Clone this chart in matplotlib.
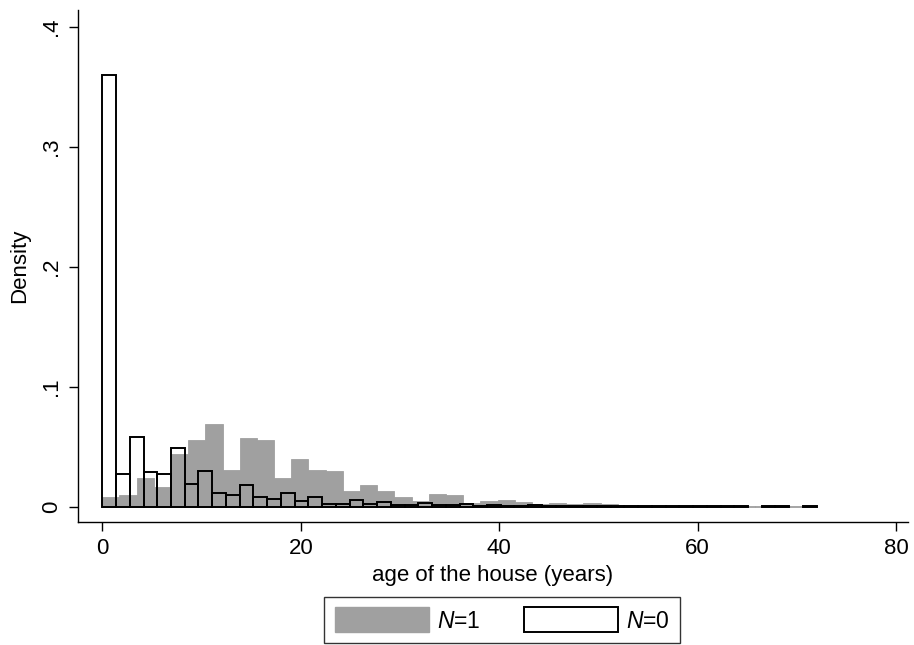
import numpy as np
import matplotlib
matplotlib.use('Agg')
import matplotlib.pyplot as plt
from matplotlib.patches import Patch

plt.rcParams['font.family'] = ['Liberation Sans', 'DejaVu Sans']
plt.rcParams['mathtext.fontset'] = 'custom'
plt.rcParams['mathtext.it'] = 'Liberation Sans:italic'
plt.rcParams['mathtext.rm'] = 'Liberation Sans'

# N=1 group: 41 bins over 0-71 years (density)
n1_range = (0, 71)
n1_density = [0.0083, 0.0097, 0.0236, 0.0167, 0.044, 0.056, 0.069, 0.031, 0.057, 0.056,
              0.024, 0.0395, 0.0305, 0.030, 0.0135, 0.0185, 0.0135, 0.0078, 0.005, 0.0103,
              0.0095, 0.003, 0.005, 0.0053, 0.0039, 0.002, 0.0028, 0.0025, 0.003, 0.0019,
              0.0013, 0.001, 0.0008, 0.0006, 0.0005, 0.0004, 0.0003, 0.0003, 0.0002, 0.0002,
              0.0002]

# N=0 group: 52 bins over 0-72 years (density)
n0_range = (0, 72)
n0_density = [0.360, 0.0272, 0.0583, 0.0292, 0.027, 0.0487, 0.0189, 0.030, 0.0111, 0.0097,
              0.0178, 0.0082, 0.0064, 0.0117, 0.0045, 0.0078, 0.0026, 0.0023, 0.0057, 0.0022,
              0.0042, 0.0015, 0.0014, 0.0033, 0.0012, 0.0011, 0.002, 0.001, 0.0018, 0.0009,
              0.0009, 0.0015, 0.0007, 0.0006, 0.0006, 0.0005, 0.0005, 0.0004, 0.0004, 0.0003,
              0.0003, 0.0003, 0.0002, 0.0002, 0.0002, 0.0002, 0.0002, 0.0, 0.0002, 0.0002,
              0.0, 0.0002]

xticks = [0, 20, 40, 60, 80]
yticks = [0, 0.1, 0.2, 0.3, 0.4]
ytick_labels = ['0', '.1', '.2', '.3', '.4']


def bin_edges(rng, dens):
    dens = np.array(dens)
    w = (rng[1] - rng[0]) / len(dens)
    left = rng[0] + np.arange(len(dens)) * w
    keep = dens > 0
    return left[keep], dens[keep], w


fig = plt.figure(figsize=(9.14, 6.45), dpi=100)
ax = fig.add_axes([78 / 914, 1 - 522 / 645, 830 / 914, 512 / 645])

gray = '#a0a0a0'
l1, h1, w1 = bin_edges(n1_range, n1_density)
ax.bar(l1, h1, width=w1, align='edge', color=gray, edgecolor=gray, linewidth=0.6)

l0, h0, w0 = bin_edges(n0_range, n0_density)
ax.bar(l0, h0, width=w0, align='edge', fill=False, edgecolor='black', linewidth=1.4)

ax.set_xlim(-2.45, 81.2)
ax.set_ylim(-0.01275, 0.414)

for s in ['top', 'right']:
    ax.spines[s].set_visible(False)
for s in ['left', 'bottom']:
    ax.spines[s].set_linewidth(1.0)

ax.set_xticks(xticks)
ax.set_yticks(yticks)
ax.set_yticklabels(ytick_labels, rotation=90, va='center')
ax.tick_params(axis='both', labelsize=16, length=6.5, width=1.0, direction='out', pad=5)

ax.set_xlabel('age of the house (years)', fontsize=16, labelpad=4)
ax.set_ylabel('Density', fontsize=16, labelpad=8)

handles = [Patch(facecolor=gray, edgecolor=gray),
           Patch(facecolor='white', edgecolor='black', linewidth=1.4)]
labels = ['$N$=1', '$N$=0']
leg = fig.legend(handles, labels, loc='center', bbox_to_anchor=(502 / 914, 1 - 620 / 645),
                 ncol=2, fontsize=16.5, frameon=True, fancybox=False, handlelength=4.1,
                 handleheight=1.3, handletextpad=0.35, columnspacing=1.9,
                 borderpad=0.45, borderaxespad=0)
leg.get_frame().set_edgecolor('black')
leg.get_frame().set_linewidth(1.0)

fig.savefig('out.png', dpi=100)
